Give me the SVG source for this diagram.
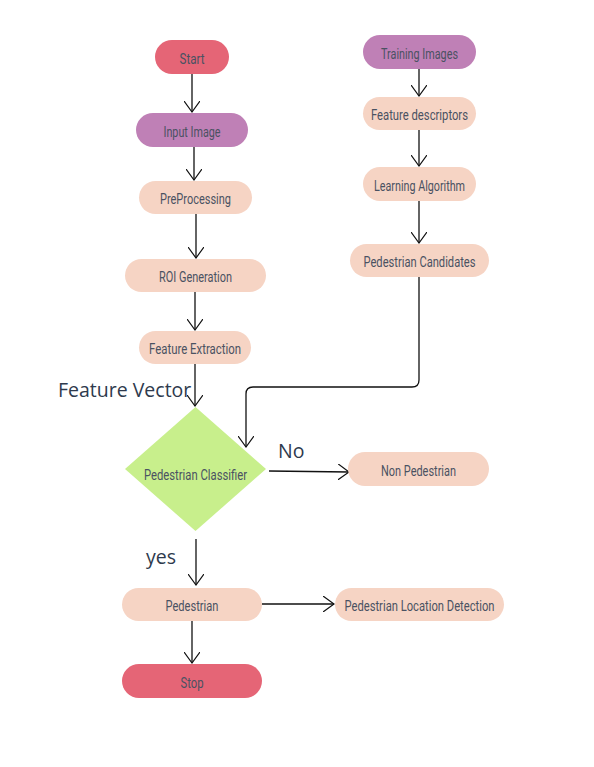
<svg xmlns="http://www.w3.org/2000/svg" width="594" height="767" viewBox="0 0 594 767">
<defs>
<marker id="arr" viewBox="0 0 12 16" refX="11" refY="8" markerWidth="12" markerHeight="16" markerUnits="userSpaceOnUse" orient="auto">
<path d="M0,0 L11,8 L0,16" fill="none" stroke="#111" stroke-width="1.2"/>
</marker>
<style>
.n text{font-family:Roboto,"Liberation Sans",sans-serif;font-size:14px;fill:#4a5262;text-anchor:middle}
.red{fill:#e56576}
.pur{fill:#bf80b6}
.pea{fill:#f6d4c4}
.c path,.c line{fill:none;stroke:#111;stroke-width:1.3}
.lbl{font-family:"Open Sans","Noto Sans",sans-serif;font-size:19.5px;fill:#2e3a4d}
</style>
</defs>
<rect width="594" height="767" fill="#fff"/>
<g class="c">
<line x1="192" y1="74" x2="192" y2="112" marker-end="url(#arr)"/>
<line x1="194" y1="147" x2="194" y2="180" marker-end="url(#arr)"/>
<line x1="196" y1="214" x2="196" y2="258" marker-end="url(#arr)"/>
<line x1="195" y1="292" x2="195" y2="330" marker-end="url(#arr)"/>
<line x1="195" y1="364" x2="195" y2="406" marker-end="url(#arr)"/>
<line x1="419" y1="69" x2="419" y2="96" marker-end="url(#arr)"/>
<line x1="419" y1="130" x2="419" y2="166" marker-end="url(#arr)"/>
<line x1="419" y1="201" x2="419" y2="243" marker-end="url(#arr)"/>
<path d="M419,277 V380 Q419,387 412,387 H253 Q246,387 246,394 V447" marker-end="url(#arr)"/>
<line x1="269" y1="471" x2="349" y2="472" marker-end="url(#arr)"/>
<line x1="196" y1="539" x2="196" y2="585" marker-end="url(#arr)"/>
<line x1="262" y1="604" x2="334" y2="604" marker-end="url(#arr)"/>
<line x1="192" y1="621" x2="192" y2="663" stroke="#555" marker-end="url(#arr)"/>
</g>
<g id="start" class="n"><rect class="red" x="155" y="40" width="74" height="34" rx="17"/><text x="192" y="63.5" textLength="25" lengthAdjust="spacingAndGlyphs">Start</text></g>
<g id="input" class="n"><rect class="pur" x="136" y="113" width="112" height="34" rx="17"/><text x="192" y="136.5" textLength="57" lengthAdjust="spacingAndGlyphs">Input Image</text></g>
<g id="pre" class="n"><rect class="pea" x="139" y="181" width="113" height="33" rx="16.5"/><text x="195.5" y="204" textLength="71" lengthAdjust="spacingAndGlyphs">PreProcessing</text></g>
<g id="roi" class="n"><rect class="pea" x="125" y="259" width="141" height="33" rx="16.5"/><text x="195.5" y="282" textLength="73" lengthAdjust="spacingAndGlyphs">ROI Generation</text></g>
<g id="fe" class="n"><rect class="pea" x="139" y="331" width="112" height="33" rx="16.5"/><text x="195" y="354" textLength="92" lengthAdjust="spacingAndGlyphs">Feature Extraction</text></g>
<g id="train" class="n"><rect class="pur" x="363" y="35" width="113" height="34" rx="17"/><text x="419.5" y="58.5" textLength="77" lengthAdjust="spacingAndGlyphs">Training Images</text></g>
<g id="fd" class="n"><rect class="pea" x="363" y="97" width="113" height="33" rx="16.5"/><text x="419.5" y="120" textLength="97" lengthAdjust="spacingAndGlyphs">Feature descriptors</text></g>
<g id="la" class="n"><rect class="pea" x="363" y="167" width="113" height="34" rx="17"/><text x="419.5" y="190.5" textLength="91" lengthAdjust="spacingAndGlyphs">Learning Algorithm</text></g>
<g id="pc" class="n"><rect class="pea" x="350" y="244" width="139" height="33" rx="16.5"/><text x="419.5" y="267" textLength="112" lengthAdjust="spacingAndGlyphs">Pedestrian Candidates</text></g>
<g id="cls" class="n"><path d="M195.5,407 L266,469 L195.5,531 L125,469 Z" fill="#c8ef8c"/><text x="195.5" y="480" textLength="103" lengthAdjust="spacingAndGlyphs">Pedestrian Classifier</text></g>
<g id="nonped" class="n"><rect class="pea" x="348" y="452" width="141" height="34" rx="17"/><text x="418.5" y="475.5" textLength="75" lengthAdjust="spacingAndGlyphs">Non Pedestrian</text></g>
<g id="ped" class="n"><rect class="pea" x="122" y="588" width="140" height="33" rx="16.5"/><text x="192" y="611" textLength="53" lengthAdjust="spacingAndGlyphs">Pedestrian</text></g>
<g id="pld" class="n"><rect class="pea" x="335" y="588" width="169" height="33" rx="16.5"/><text x="419.5" y="611" textLength="150" lengthAdjust="spacingAndGlyphs">Pedestrian Location Detection</text></g>
<g id="stop" class="n"><rect class="red" x="122" y="664" width="140" height="34" rx="17"/><text x="192" y="687.5" textLength="23" lengthAdjust="spacingAndGlyphs">Stop</text></g>
<g id="labels">
<text class="lbl" x="58" y="397">Feature Vector</text>
<text class="lbl" x="278" y="458">No</text>
<text class="lbl" x="146" y="564">yes</text>
</g>
</svg>
